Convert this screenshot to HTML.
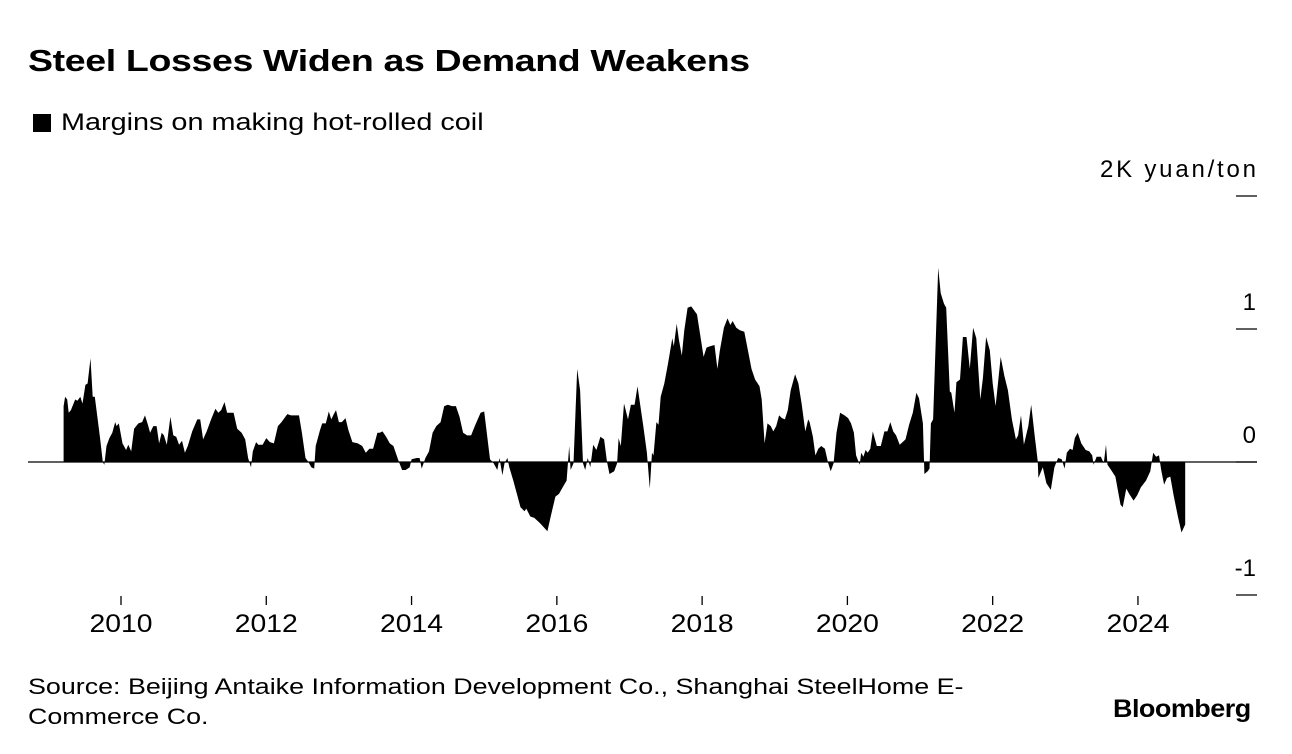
<!DOCTYPE html>
<html><head><meta charset="utf-8"><style>
body{margin:0;background:#fff;width:1292px;height:754px;overflow:hidden;font-family:"Liberation Sans",sans-serif;color:#000;position:relative}
.t{position:absolute;white-space:nowrap;transform-origin:0 0}
</style></head><body>
<div class="t" style="left:28px;top:43px;font-size:31px;font-weight:bold;letter-spacing:-0.3px;transform:scaleX(1.21)">Steel Losses Widen as Demand Weakens</div>
<div class="t" style="left:33px;top:109px;font-size:24px"><span style="display:inline-block;width:18px;height:18px;background:#000;vertical-align:-2px;margin-right:10px"></span><span style="display:inline-block;transform:scaleX(1.2);transform-origin:0 0">Margins on making hot-rolled coil</span></div>
<svg id="chart" width="1292" height="660" style="position:absolute;left:0;top:0"></svg>
<div class="t" style="left:28px;top:672px;font-size:22px;line-height:30px;transform:scaleX(1.22)">Source: Beijing Antaike Information Development Co., Shanghai SteelHome E-<br>Commerce Co.</div>
<div class="t" style="left:1113px;top:695px;font-size:25px;font-weight:bold;letter-spacing:-0.5px;transform:scaleX(1.08)">Bloomberg</div>
<script>
const years=[2009.21,2009.21,2009.23,2009.26,2009.28,2009.31,2009.37,2009.40,2009.44,2009.47,2009.51,2009.54,2009.58,2009.61,2009.64,2009.71,2009.75,2009.77,2009.80,2009.84,2009.88,2009.92,2009.94,2009.97,2010.02,2010.07,2010.10,2010.14,2010.18,2010.24,2010.29,2010.33,2010.37,2010.40,2010.445,2010.49,2010.525,2010.56,2010.59,2010.63,2010.68,2010.72,2010.76,2010.80,2010.84,2010.88,2010.92,2010.98,2011.05,2011.09,2011.13,2011.18,2011.24,2011.30,2011.34,2011.38,2011.425,2011.46,2011.51,2011.55,2011.60,2011.66,2011.71,2011.75,2011.79,2011.815,2011.86,2011.89,2011.95,2012.00,2012.05,2012.105,2012.16,2012.21,2012.29,2012.34,2012.42,2012.45,2012.49,2012.54,2012.58,2012.62,2012.66,2012.68,2012.74,2012.77,2012.82,2012.86,2012.895,2012.93,2012.96,2013.00,2013.04,2013.09,2013.13,2013.185,2013.26,2013.32,2013.37,2013.42,2013.47,2013.53,2013.56,2013.60,2013.65,2013.70,2013.75,2013.82,2013.87,2013.92,2013.975,2014.00,2014.07,2014.11,2014.14,2014.19,2014.24,2014.29,2014.34,2014.40,2014.45,2014.50,2014.555,2014.61,2014.66,2014.71,2014.765,2014.82,2014.87,2014.95,2015.00,2015.08,2015.13,2015.18,2015.21,2015.25,2015.28,2015.32,2015.345,2015.40,2015.45,2015.50,2015.555,2015.58,2015.635,2015.69,2015.77,2015.87,2015.92,2015.98,2016.03,2016.08,2016.135,2016.17,2016.19,2016.23,2016.28,2016.32,2016.36,2016.39,2016.425,2016.46,2016.50,2016.545,2016.60,2016.65,2016.69,2016.725,2016.79,2016.83,2016.85,2016.88,2016.925,2016.98,2017.02,2017.07,2017.11,2017.19,2017.24,2017.28,2017.31,2017.33,2017.37,2017.40,2017.43,2017.48,2017.53,2017.59,2017.61,2017.65,2017.68,2017.72,2017.755,2017.80,2017.85,2017.89,2017.93,2017.97,2018.02,2018.06,2018.11,2018.17,2018.21,2018.245,2018.30,2018.35,2018.39,2018.42,2018.47,2018.52,2018.58,2018.63,2018.68,2018.73,2018.79,2018.82,2018.86,2018.90,2018.945,2018.98,2019.02,2019.06,2019.10,2019.14,2019.18,2019.22,2019.28,2019.325,2019.37,2019.42,2019.46,2019.48,2019.525,2019.56,2019.60,2019.64,2019.69,2019.735,2019.77,2019.81,2019.85,2019.90,2019.96,2020.01,2020.05,2020.09,2020.12,2020.17,2020.19,2020.22,2020.25,2020.28,2020.315,2020.35,2020.405,2020.46,2020.51,2020.55,2020.59,2020.63,2020.67,2020.72,2020.76,2020.80,2020.85,2020.90,2020.95,2020.985,2021.04,2021.06,2021.105,2021.13,2021.15,2021.18,2021.25,2021.285,2021.33,2021.36,2021.41,2021.43,2021.475,2021.50,2021.55,2021.59,2021.64,2021.685,2021.73,2021.775,2021.83,2021.865,2021.91,2021.96,2022.00,2022.04,2022.11,2022.16,2022.21,2022.265,2022.32,2022.35,2022.39,2022.43,2022.49,2022.53,2022.58,2022.62,2022.63,2022.69,2022.74,2022.80,2022.85,2022.90,2022.95,2022.99,2023.02,2023.065,2023.10,2023.13,2023.17,2023.22,2023.28,2023.33,2023.37,2023.39,2023.43,2023.49,2023.53,2023.56,2023.58,2023.63,2023.69,2023.76,2023.79,2023.84,2023.88,2023.94,2023.99,2024.04,2024.11,2024.17,2024.21,2024.25,2024.29,2024.32,2024.36,2024.40,2024.445,2024.49,2024.55,2024.60,2024.65,2024.65];
const margins=[0,0.42,0.49,0.47,0.37,0.39,0.47,0.46,0.49,0.44,0.58,0.59,0.78,0.49,0.49,0.19,0,-0.02,0.12,0.18,0.22,0.30,0.27,0.29,0.14,0.09,0.13,0.08,0.25,0.29,0.30,0.35,0.28,0.22,0.27,0.27,0.14,0.22,0.20,0.13,0.34,0.20,0.19,0.13,0.16,0.07,0.12,0.23,0.32,0.32,0.17,0.23,0.32,0.40,0.37,0.39,0.45,0.37,0.37,0.37,0.25,0.22,0.17,0.03,-0.04,0.08,0.15,0.13,0.13,0.18,0.15,0.14,0.27,0.30,0.36,0.35,0.35,0.35,0.22,0.03,0,-0.04,-0.05,0.12,0.24,0.29,0.29,0.38,0.32,0.36,0.39,0.30,0.30,0.33,0.24,0.15,0.14,0.12,0.07,0.10,0.10,0.22,0.22,0.23,0.19,0.14,0.12,0.01,-0.06,-0.06,-0.04,0.02,0.03,0.03,-0.05,0.03,0.08,0.22,0.27,0.30,0.42,0.43,0.42,0.42,0.34,0.22,0.20,0.20,0.27,0.37,0.38,0.02,-0.01,-0.06,0.03,-0.10,-0.01,0.03,-0.04,-0.14,-0.24,-0.34,-0.37,-0.35,-0.41,-0.42,-0.46,-0.52,-0.40,-0.26,-0.24,-0.19,-0.14,0.12,-0.06,-0.01,0.70,0.54,-0.01,-0.06,0.03,-0.04,0.13,0.09,0.19,0.17,0,-0.09,-0.07,-0.01,0.18,0.12,0.44,0.32,0.43,0.43,0.57,0.27,0.07,-0.20,0.07,0.05,0.30,0.28,0.49,0.59,0.74,0.93,0.87,1.04,0.92,0.80,0.99,1.16,1.17,1.14,1.11,0.97,0.79,0.86,0.87,0.88,0.70,0.84,1.01,1.08,1.03,1.06,1.01,0.99,0.98,0.84,0.70,0.62,0.57,0.47,0.14,0.29,0.27,0.23,0.27,0.35,0.33,0.32,0.39,0.54,0.66,0.59,0.44,0.23,0.32,0.30,0.19,0.05,0.10,0.12,0.10,-0.01,-0.07,-0.01,0.22,0.37,0.35,0.33,0.29,0.22,0.05,-0.02,0.07,0.04,0.09,0.07,0.10,0.23,0.12,0.12,0.23,0.23,0.30,0.23,0.20,0.13,0.15,0.17,0.28,0.37,0.52,0.48,0.29,-0.09,-0.07,-0.05,0.29,0.32,1.46,1.27,1.19,1.16,0.53,0.52,0.37,0.60,0.62,0.94,0.94,0.70,1.01,0.93,0.47,0.63,0.94,0.84,0.59,0.42,0.79,0.65,0.54,0.32,0.17,0.20,0.35,0.13,0.27,0.43,0.19,0.01,-0.12,-0.04,-0.16,-0.21,-0.04,0.03,0.02,-0.05,0.07,0.10,0.09,0.18,0.22,0.14,0.09,0.08,0.05,-0.02,0.04,0.04,-0.01,0.13,-0.02,-0.06,-0.11,-0.32,-0.34,-0.20,-0.24,-0.29,-0.25,-0.19,-0.14,-0.07,0.07,0.04,0.05,-0.06,-0.17,-0.12,-0.11,-0.25,-0.41,-0.53,-0.47,0];
const xTickYears=[2010,2012,2014,2016,2018,2020,2022,2024];
const yTickValues=[2,1,0,-1];
const yTickLabels=["2K yuan/ton","1","0","-1"];
const NS="http://www.w3.org/2000/svg";
const svg=document.getElementById('chart');
function xs(y){return 121+(y-2010)*72.64;}
function ys(v){return 462-v*133;}
function mk(t,a){const e=document.createElementNS(NS,t);for(const k in a)e.setAttribute(k,a[k]);svg.appendChild(e);return e;}
let d='';
years.forEach((y,i)=>{d+=(i?'L':'M')+xs(y).toFixed(1)+','+ys(margins[i]).toFixed(1);});
d+='Z';
const area=mk('path',{d:d,fill:'#000'});


const zl=mk('line',{x1:28,x2:1257,y1:ys(0),y2:ys(0),stroke:'#000','stroke-width':1.3});


yTickValues.forEach((v,i)=>{
  const tk=mk('line',{x1:1236,x2:1257,y1:ys(v),y2:ys(v),stroke:'#000','stroke-width':1.3});
  
  
  const tx=mk('text',{x:1256,y:ys(v)-19,'text-anchor':'end','font-size':24,'font-family':'Liberation Sans, sans-serif','textLength':(i===0?156:null)});
  if(i!==0)tx.removeAttribute('textLength');
  tx.textContent=yTickLabels[i];
  
  
});
xTickYears.forEach(y=>{
  const tk=mk('line',{x1:xs(y),x2:xs(y),y1:596,y2:605,stroke:'#000','stroke-width':1.3});
  
  
  const tx=mk('text',{x:xs(y),y:632,'text-anchor':'middle','font-size':25,'font-family':'Liberation Sans, sans-serif','textLength':63,'lengthAdjust':'spacingAndGlyphs'});
  tx.textContent=String(y);
  
  
});
</script>
</body></html>
